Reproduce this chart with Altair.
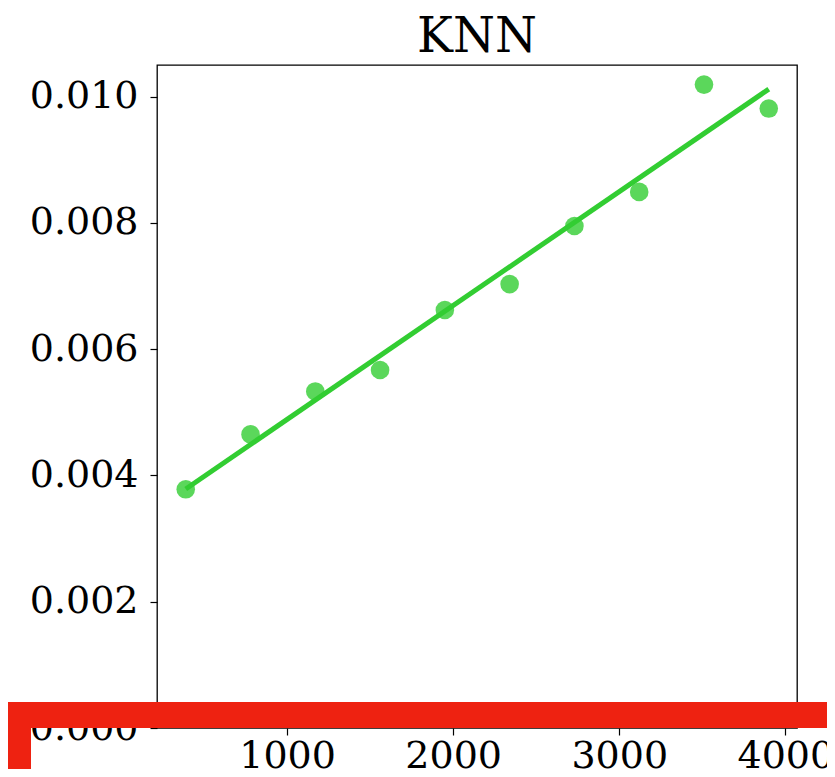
import altair as alt
import pandas as pd

title = "KNN"
x_vals = [390, 780, 1170, 1560, 1950, 2340, 2730, 3120, 3510, 3900]
y_vals = [0.00378, 0.00465, 0.00533, 0.00567, 0.00662, 0.00703, 0.00795, 0.00849, 0.01019, 0.00981]
x_ticks = [1000, 2000, 3000, 4000]
y_ticks = [0.000, 0.002, 0.004, 0.006, 0.008, 0.010]

df = pd.DataFrame({"x": x_vals, "y": y_vals})

FONT = "DejaVu Serif"
W, H = 640, 663

xs = alt.Scale(domain=[217, 4070], nice=False, zero=False)
ys = alt.Scale(domain=[0, 0.0105], nice=False, zero=False)

xenc = alt.X("x:Q", scale=xs, axis=alt.Axis(values=x_ticks, format="d", title=None, grid=False,
            domain=False, tickSize=7, tickColor="black", tickWidth=1.2, labelPadding=2,
            labelFont=FONT, labelFontSize=38, labelColor="black"))
yenc = alt.Y("y:Q", scale=ys, axis=alt.Axis(values=y_ticks, format=".3f", title=None, grid=False,
            domain=False, tickSize=7, tickColor="black", tickWidth=1.2, labelPadding=12,
            labelFont=FONT, labelFontSize=38, labelColor="black"))

base = alt.Chart(df)
points = base.mark_circle(size=346, color="#32cd32", opacity=0.8).encode(x=xenc, y=yenc)
line = base.transform_regression("x", "y").mark_line(color="#32cd32", strokeWidth=5).encode(
    x=alt.X("x:Q", scale=xs), y=alt.Y("y:Q", scale=ys))

one = alt.Chart(pd.DataFrame({"k": [0]}))
red_h = one.mark_rect(color="#ee2211", clip=False).encode(
    x=alt.value(-153), x2=alt.value(690), y=alt.value(637), y2=alt.value(663))
red_v = one.mark_rect(color="#ee2211", clip=False).encode(
    x=alt.value(-153), x2=alt.value(-126), y=alt.value(637), y2=alt.value(710))

chart = alt.layer(points, line, red_h, red_v).properties(
    width=W, height=H,
    title=alt.TitleParams(title, font=FONT, fontSize=48, fontWeight="normal", color="black",
                          anchor="middle", offset=20, baseline="alphabetic", dy=55),
    autosize=alt.AutoSizeParams(type="none"),
    padding={"left": 149, "top": 57, "right": 30, "bottom": 41},
).configure_view(stroke="black", strokeWidth=1.3)

chart.save("out.html", embed_options={"renderer": "svg", "actions": False})
